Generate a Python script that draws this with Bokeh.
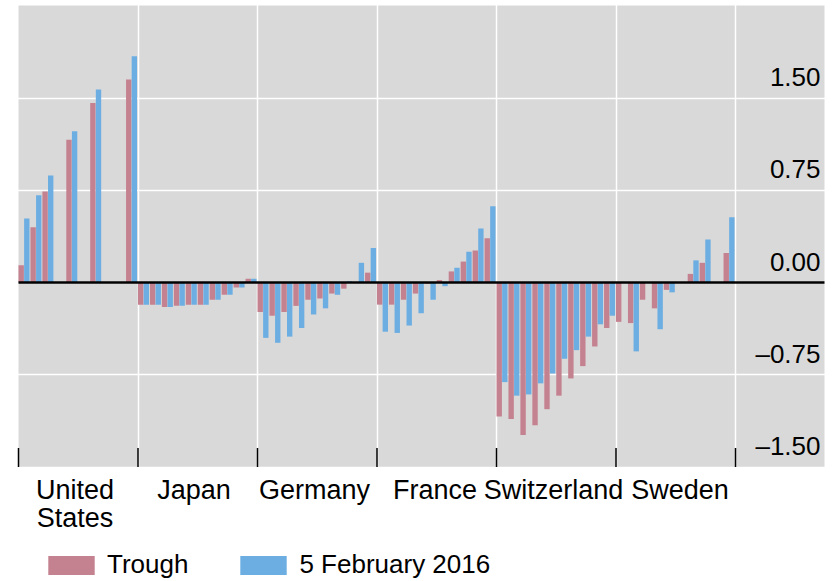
import math
from bokeh.plotting import figure
from bokeh.models import (ColumnDataSource, FixedTicker, Grid, BoxAnnotation,
                          Legend, LegendItem, Range1d)
from bokeh.core.properties import value
from bokeh.embed import file_html
from bokeh.resources import INLINE

NaN = float("nan")

countries = ["United\nStates", "Japan", "Germany", "France", "Switzerland", "Sweden"]
maturities = [1, 2, 3, 4, 5, 6, 7, 8, 9, 10]

trough_us = [0.14, 0.45, 0.74, NaN, 1.16, NaN, 1.46, NaN, NaN, 1.65]
trough_jp = [-0.18, -0.18, -0.20, -0.19, -0.18, -0.18, -0.14, -0.10, -0.04, 0.03]
trough_de = [-0.24, -0.27, -0.24, -0.19, -0.14, -0.13, -0.09, -0.05, 0.00, 0.08]
trough_fr = [-0.18, -0.18, -0.14, -0.09, -0.01, 0.02, 0.09, 0.17, 0.26, 0.36]
trough_ch = [-1.09, -1.11, -1.24, -1.16, -1.03, -0.92, -0.78, -0.68, -0.52, -0.37]
trough_se = [-0.32, -0.33, -0.14, -0.21, -0.06, NaN, 0.07, 0.16, NaN, 0.24]

feb_us = [0.52, 0.71, 0.87, NaN, 1.23, NaN, 1.57, NaN, NaN, 1.84]
feb_jp = [-0.18, -0.18, -0.20, -0.19, -0.18, -0.18, -0.14, -0.10, -0.04, 0.03]
feb_de = [-0.45, -0.49, -0.44, -0.37, -0.26, -0.21, -0.10, 0.01, 0.16, 0.28]
feb_fr = [-0.40, -0.41, -0.35, -0.25, -0.14, -0.03, 0.12, 0.25, 0.44, 0.62]
feb_ch = [-0.81, -0.92, -0.91, -0.82, -0.74, -0.62, -0.55, -0.44, -0.34, -0.27]
feb_se = [NaN, -0.56, NaN, -0.38, -0.08, NaN, 0.18, 0.35, NaN, 0.53]

ytick_values = [1.5, 0.75, 0.0, -0.75, -1.5]
ytick_labels = ["1.50", "0.75", "0.00", "\u20130.75", "\u20131.50"]
series_names = ["Trough", "5 February 2016"]
label_pos = [4.73, 14.69, 24.77, 34.85, 44.77, 55.36]

PINK = "#c4818f"
BLUE = "#6caee2"
GRAY = "#d9d9d9"
FONT = "Liberation Sans"
GROUP = 10  # maturity slots per country

trough_all = [trough_us, trough_jp, trough_de, trough_fr, trough_ch, trough_se]
feb_all = [feb_us, feb_jp, feb_de, feb_fr, feb_ch, feb_se]

def build(series, offset):
    xs, ys = [], []
    for g, vals in enumerate(series):
        for m, v in zip(maturities, vals):
            if not math.isnan(v):
                xs.append(g * GROUP + (m - 1) + offset)
                ys.append(v)
    return ColumnDataSource(dict(x=xs, y=ys))

src_t = build(trough_all, 0.225)
src_f = build(feb_all, 0.695)

n_groups = len(countries)
PX_X = 11.95   # px per x unit
PX_Y = 123.0   # px per y unit
W, H = 839, 581

# grey panel in data units
x_lo = 0.0
x_hi = (824 - 18) / PX_X
y_lo = -1.5
y_hi = (282 - 5) / PX_Y

x_start = -18 / PX_X
x_end = x_start + W / PX_X
y_end = 282 / PX_Y
y_start = y_end - H / PX_Y

p = figure(width=W, height=H, output_backend="svg", toolbar_location=None,
           x_axis_type=None, y_axis_type=None,
           x_range=Range1d(x_start, x_end), y_range=Range1d(y_start, y_end),
           min_border=0)
p.outline_line_color = None
p.background_fill_color = "white"
p.border_fill_color = "white"

p.add_layout(BoxAnnotation(left=x_lo, right=x_hi, bottom=y_lo, top=y_hi,
                           fill_color=GRAY, fill_alpha=1, line_color=None,
                           level="image"))

boundaries = [g * GROUP for g in range(n_groups + 1)]
p.add_layout(Grid(dimension=0, ticker=FixedTicker(ticks=boundaries[1:]),
                  grid_line_color="white", grid_line_width=1.5, level="underlay"))
p.add_layout(Grid(dimension=1, ticker=FixedTicker(ticks=ytick_values),
                  grid_line_color="white", grid_line_width=1.5, level="underlay"))

r_t = p.vbar(x="x", top="y", bottom=0, width=0.45, source=src_t,
             fill_color=PINK, line_color=None)
r_f = p.vbar(x="x", top="y", bottom=0, width=0.45, source=src_f,
             fill_color=BLUE, line_color=None)

# zero line
p.segment(x0=[x_lo], x1=[x_hi], y0=[0], y1=[0], line_color="black", line_width=2.5)

# category tick marks (inside, at the bottom)
tick_len = 19 / PX_Y
p.segment(x0=boundaries, x1=boundaries, y0=[y_lo] * len(boundaries),
          y1=[y_lo + tick_len] * len(boundaries), line_color="black", line_width=1.5)

# y labels inside panel, right aligned, above gridlines
ysrc = ColumnDataSource(dict(x=[x_hi] * len(ytick_values), y=ytick_values, t=ytick_labels))
p.text(x="x", y="y", text="t", source=ysrc, text_align="right",
       text_baseline="alphabetic", x_offset=-4, y_offset=-21,
       text_font=value(FONT), text_font_size="26px", text_color="black")

# category labels below panel
csrc = ColumnDataSource(dict(x=label_pos, y=[y_lo] * len(label_pos), t=countries))
p.text(x="x", y="y", text="t", source=csrc, text_align="center",
       text_baseline="top", y_offset=8, text_line_height=0.93,
       text_font=value(FONT), text_font_size="27px", text_color="black")

legend = Legend(items=[LegendItem(label=series_names[0], renderers=[r_t]),
                       LegendItem(label=series_names[1], renderers=[r_f])],
                orientation="horizontal", location=(42, 1),
                glyph_width=58, glyph_height=24, label_height=31,
                label_standoff=7, spacing=46,
                label_text_font=FONT, label_text_font_size="26px",
                label_text_color="black", border_line_color=None,
                background_fill_alpha=0, padding=0, margin=0)
p.add_layout(legend, "center")

open("out.html", "w").write(file_html(p, INLINE))
